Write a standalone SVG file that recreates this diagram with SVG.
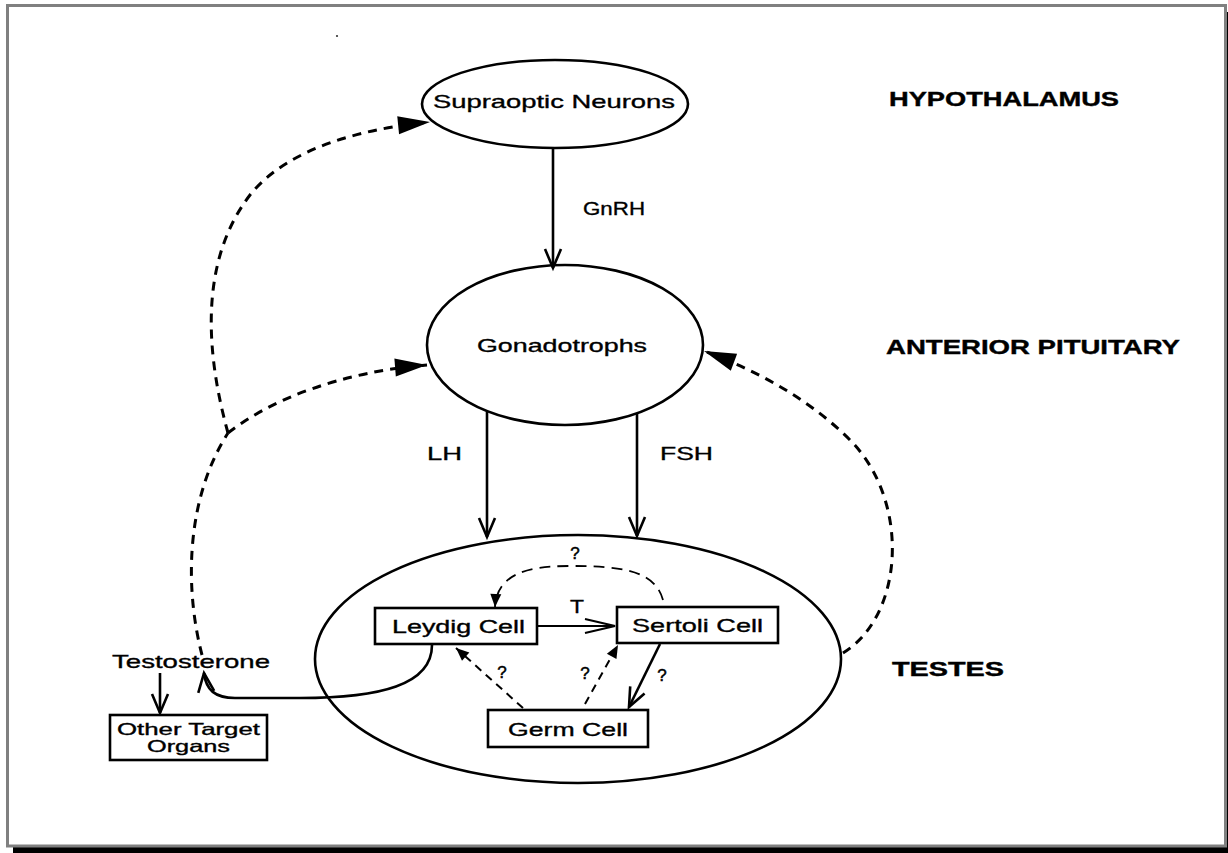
<svg xmlns="http://www.w3.org/2000/svg" width="1228" height="853" viewBox="0 0 1228 853">
<defs>
<style>
.frame{fill:none;stroke:#808080;stroke-width:3}
.shadow{fill:#000}
.node{fill:none;stroke:#000;stroke-width:2.6}
.box{fill:#fff;stroke:#000;stroke-width:2.6}
.t{font-family:"Liberation Sans",Arial,Helvetica,sans-serif;font-size:19px;fill:#000;stroke:#000;stroke-width:0.35}
.sm{font-family:"Liberation Sans",Arial,Helvetica,sans-serif;font-size:16.5px;fill:#000;stroke:#000;stroke-width:0.35}
.q{font-family:"Liberation Sans",Arial,Helvetica,sans-serif;font-size:17px;fill:#000;stroke:#000;stroke-width:0.5}
.reg{font-family:"Liberation Sans",Arial,Helvetica,sans-serif;font-weight:bold;font-size:20px;fill:#000;stroke:#000;stroke-width:0.4}
.solid{fill:none;stroke:#000;stroke-width:2.6}
.thin{fill:none;stroke:#000;stroke-width:2.2}
.fb{fill:none;stroke:#000;stroke-width:3;stroke-dasharray:9 7}
.inner{fill:none;stroke:#000;stroke-width:1.8;stroke-dasharray:11 7}
.inner2{fill:none;stroke:#000;stroke-width:2;stroke-dasharray:8 6}
</style>
<marker id="open" markerUnits="userSpaceOnUse" markerWidth="22" markerHeight="18" viewBox="0 0 22 18" refX="20" refY="9" orient="auto" overflow="visible">
<path d="M1,1 L20,9 L1,17" fill="none" stroke="#000" stroke-width="2.6"/>
</marker>
<marker id="openLong" markerUnits="userSpaceOnUse" markerWidth="32" markerHeight="16" viewBox="0 0 32 16" refX="30" refY="8" orient="auto" overflow="visible">
<path d="M0,1 L30,8 L0,15" fill="none" stroke="#000" stroke-width="2.2"/>
</marker>
<marker id="big" markerUnits="userSpaceOnUse" markerWidth="32" markerHeight="18" viewBox="0 0 32 18" refX="32" refY="9" orient="auto" overflow="visible">
<path d="M0,0 L32,9 L0,18 Z" fill="#000"/>
</marker>
<marker id="small" markerUnits="userSpaceOnUse" markerWidth="13" markerHeight="11" viewBox="0 0 13 11" refX="13" refY="5.5" orient="auto" overflow="visible">
<path d="M0,0 L13,5.5 L0,11 Z" fill="#000"/>
</marker>
</defs>

<rect width="1228" height="853" fill="#fff"/>
<g id="frame">
<rect class="shadow" x="13" y="847" width="1215" height="6"/>
<rect class="shadow" x="1226.5" y="12" width="1.5" height="841"/>
<rect class="frame" x="7.5" y="5.5" width="1218" height="840.5"/>
<circle cx="337" cy="36" r="1.1" fill="#333"/>
</g>

<g id="testes">
<ellipse class="node" cx="578" cy="659" rx="263" ry="124"/>
</g>

<g id="supraoptic">
<ellipse class="node" cx="555" cy="104" rx="133" ry="44"/>
<text class="t" x="433" y="108" textLength="242" lengthAdjust="spacingAndGlyphs">Supraoptic Neurons</text>
</g>

<g id="gonadotrophs">
<ellipse class="node" cx="565" cy="345" rx="138" ry="80"/>
<text class="t" x="477" y="352" textLength="170" lengthAdjust="spacingAndGlyphs">Gonadotrophs</text>
</g>

<g id="leydig">
<rect class="box" x="375" y="608" width="162" height="36"/>
<text class="t" x="392" y="633" textLength="133" lengthAdjust="spacingAndGlyphs">Leydig Cell</text>
</g>

<g id="sertoli">
<rect class="box" x="617" y="607" width="161" height="36"/>
<text class="t" x="632" y="632" textLength="131" lengthAdjust="spacingAndGlyphs">Sertoli Cell</text>
</g>

<g id="germ">
<rect class="box" x="488" y="710" width="160" height="37"/>
<text class="t" x="508" y="736" textLength="120" lengthAdjust="spacingAndGlyphs">Germ Cell</text>
</g>

<g id="testosterone">
<text class="t" x="112" y="668" textLength="158" lengthAdjust="spacingAndGlyphs">Testosterone</text>
</g>

<g id="other-target-organs">
<rect class="box" x="110" y="715" width="157" height="45"/>
<text class="sm" x="117" y="735" textLength="143" lengthAdjust="spacingAndGlyphs">Other Target</text>
<text class="sm" x="147" y="752" textLength="83" lengthAdjust="spacingAndGlyphs">Organs</text>
</g>

<g id="region-labels">
<text class="reg" x="889" y="106" textLength="230" lengthAdjust="spacingAndGlyphs">HYPOTHALAMUS</text>
<text class="reg" x="886" y="354" textLength="294" lengthAdjust="spacingAndGlyphs">ANTERIOR PITUITARY</text>
<text class="reg" x="892" y="676" textLength="112" lengthAdjust="spacingAndGlyphs">TESTES</text>
</g>

<g id="connectors">
<path class="solid" d="M553,148 L553,268" marker-end="url(#open)"/>
<text class="t" x="583" y="215" textLength="62" lengthAdjust="spacingAndGlyphs">GnRH</text>
<path class="solid" d="M487,412 L487,537" marker-end="url(#open)"/>
<text class="t" x="427" y="460" textLength="35" lengthAdjust="spacingAndGlyphs">LH</text>
<path class="solid" d="M637,413 L637,536" marker-end="url(#open)"/>
<text class="t" x="660" y="460" textLength="53" lengthAdjust="spacingAndGlyphs">FSH</text>
<path class="fb" d="M202,655 C185,590 185,500 228,433"/>
<path class="fb" d="M228,433 C205,350 200,260 250,195 C290,145 370,128 430,122" marker-end="url(#big)"/>
<path class="fb" d="M228,433 C270,400 340,372 427,365" marker-end="url(#big)"/>
<path class="fb" d="M843,653 C905,615 910,500 850,440 C810,400 760,372 704,351" marker-end="url(#big)"/>
<path class="solid" d="M432,645 C432,685 380,698 300,698 L235,698 C215,698 206,690 204,673" marker-end="url(#open)"/>
<path class="solid" d="M160,673 L160,713" marker-end="url(#open)"/>
<path class="thin" d="M537,626 L615,626" marker-end="url(#openLong)"/>
<text class="t" x="570" y="613" textLength="14" lengthAdjust="spacingAndGlyphs">T</text>
<path class="inner" d="M663,600 C655,570 620,566 570,566 C525,566 497,575 495,607" marker-end="url(#small)"/>
<text class="q" x="575" y="559" text-anchor="middle">?</text>
<path class="inner2" d="M523,708 L456,648" marker-end="url(#small)"/>
<text class="q" x="502" y="678" text-anchor="middle">?</text>
<path class="inner2" d="M585,704 L618,645" marker-end="url(#small)"/>
<text class="q" x="585" y="679" text-anchor="middle">?</text>
<path class="solid" d="M660,644 L629,707" marker-end="url(#open)"/>
<text class="q" x="662" y="681" text-anchor="middle">?</text>
</g>
</svg>
